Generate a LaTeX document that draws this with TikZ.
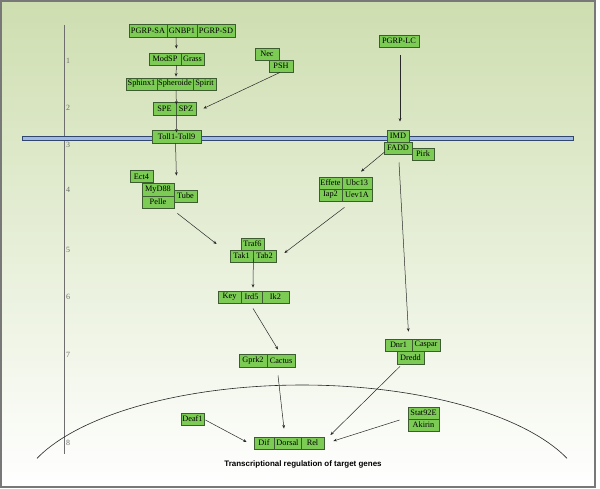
\documentclass[tikz,border=0pt]{standalone}
\usepackage{fontspec}
\setmainfont{Liberation Serif}
\newfontfamily\labsans{Liberation Sans}
\usetikzlibrary{arrows.meta}
\definecolor{boxfill}{RGB}{124,203,85}
\definecolor{boxline}{RGB}{62,92,50}
\definecolor{arrowcol}{RGB}{40,40,40}
\definecolor{levcol}{RGB}{110,110,110}
\definecolor{bgtop}{RGB}{206,222,176}
\definecolor{bgmid}{RGB}{224,234,204}
\definecolor{framecol}{RGB}{120,120,120}
\definecolor{memfill}{RGB}{160,187,226}
\definecolor{memline}{RGB}{50,70,110}
\begin{document}
\begin{tikzpicture}[x=1bp,y=-1bp,
  gbox/.style={draw=boxline, fill=boxfill, line width=0.8bp, inner sep=0pt,
    minimum height=12bp, font=\fontsize{8.3}{9}\selectfont},
  arr/.style={draw=arrowcol, line width=0.5bp, -{Stealth[length=3.5bp,width=2.8bp]}},
  lev/.style={text=levcol, font=\fontsize{8}{9}\selectfont, anchor=west, inner sep=0pt}]
\useasboundingbox (0,0) rectangle (600,489);
% background and frame
\fill[top color=bgtop, middle color=bgmid, bottom color=white] (1,1) rectangle (595,487);
\draw[framecol, line width=1.2bp] (1,1) rectangle (595,487);
% level axis
\draw[levcol, line width=0.8bp] (64,25) -- (64,454);
\node[lev] (l1) at (66,61) {1};
\node[lev] (l2) at (66,108) {2};
\node[lev] (l3) at (66,145) {3};
\node[lev] (l4) at (66,190) {4};
\node[lev] (l5) at (66,250) {5};
\node[lev] (l6) at (66,297) {6};
\node[lev] (l7) at (66,355) {7};
\node[lev] (l8) at (66,443) {8};
% membrane
\draw[draw=memline, fill=memfill, line width=0.8bp] (22,136) rectangle (573,140);
% nucleus
\draw[arrowcol, line width=0.6bp] plot[domain=21.6:158.4, samples=80] ({302+285*cos(\x)}, {501-116*sin(\x)});
% nodes
\node[gbox, minimum width=38bp, minimum height=13bp] (pgrpsa) at (148,30.5) {PGRP-SA};
\node[gbox, minimum width=30bp, minimum height=13bp] (gnbp1) at (182,30.5) {GNBP1};
\node[gbox, minimum width=38bp, minimum height=13bp] (pgrpsd) at (216,30.5) {PGRP-SD};
\node[gbox, minimum width=32bp] (modsp) at (165,59) {ModSP};
\node[gbox, minimum width=23bp] (grass) at (192.5,59) {Grass};
\node[gbox, minimum width=31bp] (sphinx) at (141.5,84) {Sphinx1};
\node[gbox, minimum width=36bp] (spheroide) at (175,84) {Spheroide};
\node[gbox, minimum width=23bp] (spirit) at (204.5,84) {Spirit};
\node[gbox, minimum width=23bp, minimum height=13bp] (spe) at (164.5,108.5) {SPE};
\node[gbox, minimum width=20bp, minimum height=13bp] (spz) at (186,108.5) {SPZ};
\node[gbox, minimum width=49bp, minimum height=13bp] (toll) at (176.5,136.5) {Toll1-Toll9};
\node[gbox, minimum width=24bp] (nec) at (267,54) {Nec};
\node[gbox, minimum width=24bp] (psh) at (281,66) {PSH};
\node[gbox, minimum width=40bp] (pgrplc) at (399,41) {PGRP-LC};
\node[gbox, minimum width=22bp] (imd) at (398,136) {IMD};
\node[gbox, minimum width=28bp] (fadd) at (398,148) {FADD};
\node[gbox, minimum width=22bp] (pirk) at (423,154) {Pirk};
\node[gbox, minimum width=23bp, minimum height=11.5bp] (ect4) at (141.5,176.5) {Ect4};
\node[gbox, minimum width=32bp, minimum height=13bp] (myd88) at (158,189.5) {MyD88};
\node[gbox, minimum width=32bp] (pelle) at (158,202) {Pelle};
\node[gbox, minimum width=23bp] (tube) at (185.5,196) {Tube};
\node[gbox, minimum width=23bp] (effete) at (330.5,183) {Effete};
\node[gbox, minimum width=30bp] (ubc13) at (357,183) {Ubc13};
\node[gbox, minimum width=23bp] (iap2) at (330.5,195) {Iap2};
\node[gbox, minimum width=30bp] (uev1a) at (357,195) {Uev1A};
\node[gbox, minimum width=23bp] (traf6) at (252.5,244) {Traf6};
\node[gbox, minimum width=23bp] (tak1) at (241.5,256) {Tak1};
\node[gbox, minimum width=23bp] (tab2) at (264.5,256) {Tab2};
\node[gbox, minimum width=23bp] (key) at (229.5,297) {Key};
\node[gbox, minimum width=21bp] (ird5) at (251.5,297) {Ird5};
\node[gbox, minimum width=27bp] (ik2) at (275.5,297) {Ik2};
\node[gbox, minimum width=28bp, minimum height=13bp] (gprk2) at (253,360.5) {Gprk2};
\node[gbox, minimum width=28bp, minimum height=13bp] (cactus) at (281,360.5) {Cactus};
\node[gbox, minimum width=27bp] (dnr1) at (398.5,345) {Dnr1};
\node[gbox, minimum width=28bp] (caspar) at (426,345) {Caspar};
\node[gbox, minimum width=27bp, minimum height=13bp] (dredd) at (410.5,357.5) {Dredd};
\node[gbox, minimum width=31bp] (stat) at (423.5,413) {Stat92E};
\node[gbox, minimum width=31bp] (akirin) at (423.5,425) {Akirin};
\node[gbox, minimum width=23bp] (deaf1) at (192.5,419) {Deaf1};
\node[gbox, minimum width=20bp] (dif) at (264,443) {Dif};
\node[gbox, minimum width=27bp] (dorsal) at (287.5,443) {Dorsal};
\node[gbox, minimum width=23bp] (rel) at (312.5,443) {Rel};
% caption
\node[font=\labsans\bfseries\fontsize{8}{9}\selectfont, inner sep=0pt] (caption) at (303,464) {Transcriptional regulation of target genes};
% connectors
\draw[arr] ([xshift=-6]gnbp1.south) -- ([shift={(-5,-4)}]modsp.north east);
\draw[arr] ([xshift=-5]modsp.south east) -- ([shift={(1,-1)}]spheroide.north);
\draw[arr] ([xshift=1]spheroide.south) -- ([yshift=-3]spe.north east);
\draw[arr] (spe.south east) -- ([yshift=-3]toll.north);
\draw[arr] ([xshift=-1]psh.south) -- ([xshift=7]spz.east);
\draw[arr] ([xshift=-1]toll.south) -- ([shift={(2,-7)}]myd88.north east);
\draw[arr] ([shift={(3,5)}]pelle.south east) -- ([shift={(-13,-12)}]tak1.west);
\draw[arr] ([shift={(2,6)}]iap2.south east) -- ([shift={(8,-3)}]tab2.east);
\draw[arr] ([yshift=4]tak1.south east) -- ([shift={(1.5,-3)}]ird5.north);
\draw[arr] ([shift={(1.5,5)}]ird5.south) -- ([shift={(-3,-4)}]cactus.north);
\draw[arr] ([shift={(-3,8)}]cactus.south) -- ([shift={(-3.5,-8)}]dorsal.north);
\draw[arr] ([shift={(1,1)}]deaf1.east) -- ([shift={(-7,-1)}]dif.west);
\draw[arr] ([shift={(-10.5,2)}]dredd.south) -- ([shift={(6,-8)}]rel.east);
\draw[arr] ([shift={(-8,-5)}]akirin.west) -- ([shift={(9,-2)}]rel.east);
\draw[arr] ([shift={(1,8)}]pgrplc.south) -- ([shift={(2,-8)}]imd.north);
\draw[arr] ([shift={(1,4)}]fadd.west) -- ([shift={(4,-5)}]ubc13.north);
\draw[arr] ([shift={(1,8)}]fadd.south) -- ([shift={(-4,-7)}]dnr1.north east);
\end{tikzpicture}
\end{document}
